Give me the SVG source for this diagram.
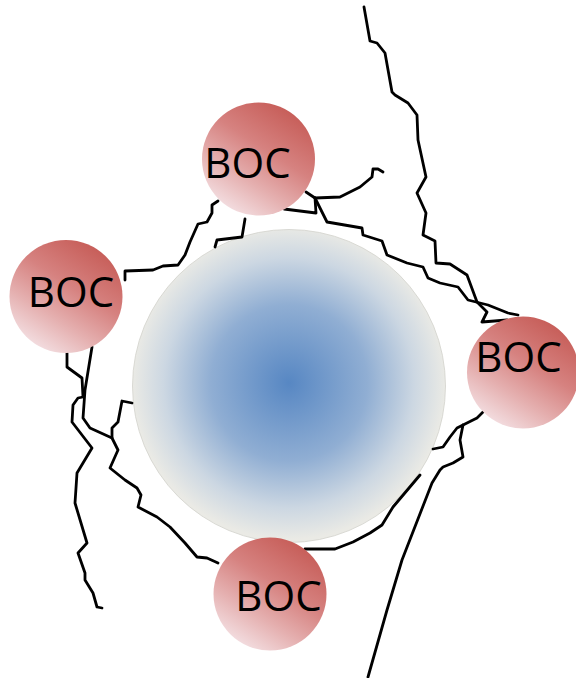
<svg xmlns="http://www.w3.org/2000/svg" width="576" height="678" viewBox="0 0 576 678">
<defs>
<radialGradient id="blue" cx="0.5" cy="0.49" r="0.5">
<stop offset="0" stop-color="#5787C3"/>
<stop offset="0.5" stop-color="#90AED3"/>
<stop offset="0.8" stop-color="#CCD7E2"/>
<stop offset="1" stop-color="#EAEAE5"/>
</radialGradient>
<linearGradient id="red" x1="0.2" y1="0.95" x2="0.78" y2="0.05">
<stop offset="0" stop-color="#F4E1E4"/>
<stop offset="0.3" stop-color="#E5B0B0"/>
<stop offset="0.6" stop-color="#D68280"/>
<stop offset="1" stop-color="#C65C57"/>
</linearGradient>
<style>
.crack{fill:none;stroke:#000;stroke-width:2.8;stroke-linejoin:round;stroke-linecap:round}
.boc{fill:url(#red)}
.lbl{font-family:"Open Sans","Liberation Sans",sans-serif;font-size:42px;fill:#000;text-anchor:middle}
</style>
</defs>
<rect width="576" height="678" fill="#fff"/>
<g id="core">
<circle cx="289" cy="386" r="156.5" fill="url(#blue)" stroke="#d2d2cc" stroke-width="0.8"/>
</g>
<g id="connectors">
<path class="crack" d="M364,7 L370,41 L377,43 L385,53 L392,92 L395,95 L408,103 L417,115 L418,140 L426,177 L417,193 L426,213 L423,235 L435,241 L436,263 L450,264 L467,275 L477,302 L487,312 L482,322 L507,320"/>
<path class="crack" d="M306,192 L315,198 L327,222 L362,228 L363,235 L382,241 L387,255 L407,263 L423,267 L428,278 L440,283 L458,287 L468,300 L488,305 L508,313 L518,315"/>
<path class="crack" d="M315,198 L340,197 L360,187 L372,177 L373,169 L378,169 L383,172"/>
<path class="crack" d="M315,198 L316,213 L284,209"/>
<path class="crack" d="M218,201 L212,205 L212,213 L207,222 L198,224 L190,242 L185,255 L178,265 L163,266 L153,270 L125,271 L125,280"/>
<path class="crack" d="M245,219 L242,237 L217,240 L215,247"/>
<path class="crack" d="M67,353 L67,367 L82,378 L83,397 L78,398 L73,405 L72,422 L92,448 L77,473 L75,503 L87,543 L78,553 L85,573 L85,580 L93,593 L97,607 L102,608"/>
<path class="crack" d="M92,347 L85,390 L83,418 L90,428 L112,438 L118,450 L110,468 L125,480 L137,488 L141,495 L138,507 L157,517 L170,527 L185,543 L197,557 L207,558 L218,563"/>
<path class="crack" d="M132,403 L122,401 L118,422 L112,428 L112,438"/>
<path class="crack" d="M483,412 L477,418 L463,425 L457,428 L450,437 L443,447 L433,449"/>
<path class="crack" d="M463,425 L460,440 L463,457 L453,463 L443,467 L440,470 L432,483 L402,560 L387,610 L368,677"/>
<path class="crack" d="M305,549 L335,549 L353,542 L370,533 L382,525 L393,507 L420,475"/>
</g>
<g id="boc-top">
<circle class="boc" cx="258.5" cy="159" r="56.5"/>
<text class="lbl" x="247.5" y="178">BOC</text>
</g>
<g id="boc-left">
<circle class="boc" cx="66" cy="296.5" r="56.5"/>
<text class="lbl" x="71" y="307">BOC</text>
</g>
<g id="boc-right">
<circle class="boc" cx="523" cy="372.5" r="56"/>
<text class="lbl" x="518.5" y="372">BOC</text>
</g>
<g id="boc-bottom">
<circle class="boc" cx="270" cy="594" r="56.5"/>
<text class="lbl" x="278.5" y="611">BOC</text>
</g>
</svg>
